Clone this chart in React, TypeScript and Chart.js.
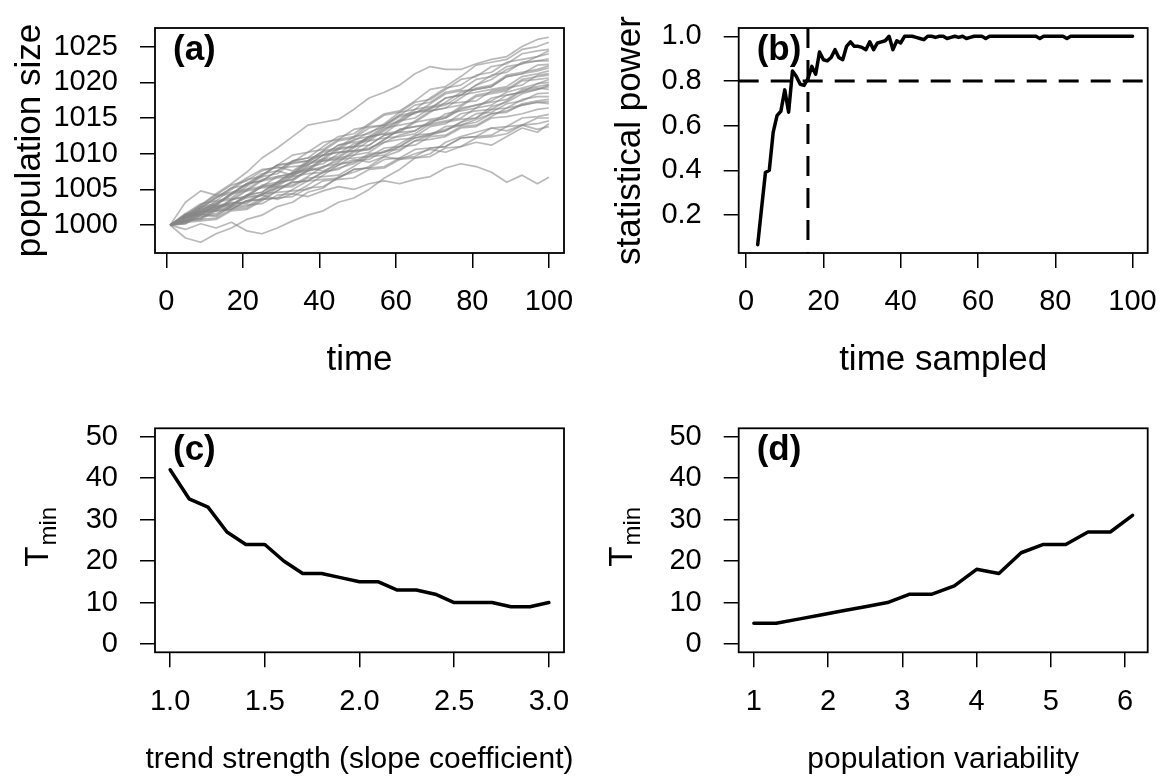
import React, { useEffect, useRef } from "react";
import { Chart, registerables } from "chart.js";

Chart.register(...registerables);

const FONT = "'Liberation Sans', Arial, Helvetica, sans-serif";
const TICK_SIZE = 29;
const TOP_TITLE_SIZE = 35;
const BOTTOM_TITLE_SIZE = 30;
const LABEL_SIZE = 35;

// ---------- (a) population trajectories ----------
const TIME_A = [1, 5, 9, 13, 17, 21, 25, 29, 33, 37, 41, 45, 49, 53, 57, 61, 65, 69, 73, 77, 81, 85, 89, 93, 97, 100];
const POPULATION_RUNS = [
  [1000, 1001.4, 1002.8, 1004.4, 1005.8, 1007.4, 1009.4, 1010.8, 1012.4, 1014.0, 1014.4, 1014.8, 1016.2, 1017.8, 1018.6, 1019.6, 1021.2, 1022.2, 1021.8, 1021.8, 1022.6, 1023.2, 1023.6, 1025.0, 1026.0, 1026.3],
  [1000, 1001.0, 1002.2, 1002.8, 1004.4, 1005.8, 1006.2, 1007.6, 1009.0, 1009.4, 1011.0, 1012.4, 1012.8, 1014.2, 1015.6, 1016.0, 1017.4, 1019.0, 1019.4, 1020.8, 1022.4, 1022.8, 1023.2, 1024.6, 1025.0, 1025.6],
  [1000, 1000.6, 1002.0, 1003.4, 1003.8, 1005.4, 1006.8, 1007.2, 1008.8, 1010.2, 1010.6, 1012.0, 1012.4, 1014.0, 1015.4, 1015.8, 1017.2, 1017.6, 1019.0, 1020.4, 1020.8, 1022.2, 1022.6, 1024.0, 1024.4, 1024.6],
  [1000, 1001.2, 1001.4, 1002.6, 1002.8, 1004.2, 1004.6, 1006.0, 1007.4, 1007.8, 1009.4, 1010.8, 1012.4, 1012.8, 1014.2, 1015.8, 1016.2, 1017.8, 1019.2, 1019.6, 1021.0, 1021.4, 1022.8, 1023.2, 1023.6, 1024.0],
  [1000, 1001.6, 1003.0, 1003.4, 1005.0, 1006.4, 1006.8, 1008.4, 1008.6, 1009.0, 1010.4, 1011.8, 1012.2, 1013.6, 1014.0, 1015.4, 1016.8, 1017.2, 1018.6, 1019.0, 1020.4, 1020.8, 1022.2, 1022.6, 1023.0, 1023.3],
  [1000, 1000.4, 1001.8, 1002.2, 1003.6, 1004.0, 1005.4, 1006.8, 1007.2, 1008.8, 1009.2, 1009.6, 1011.0, 1012.4, 1012.8, 1014.4, 1015.8, 1016.2, 1017.8, 1018.2, 1019.6, 1021.0, 1021.4, 1022.8, 1023.0, 1023.0],
  [1000, 1001.0, 1002.4, 1003.8, 1005.2, 1005.6, 1007.0, 1008.4, 1009.8, 1010.2, 1011.6, 1012.0, 1013.4, 1013.8, 1014.0, 1015.4, 1015.8, 1016.0, 1016.4, 1017.8, 1019.2, 1019.6, 1021.0, 1021.4, 1021.8, 1022.3],
  [1000, 1000.2, 1001.4, 1001.6, 1002.8, 1004.2, 1004.6, 1006.0, 1006.4, 1007.8, 1009.2, 1010.6, 1012.0, 1012.4, 1013.8, 1015.2, 1015.6, 1017.0, 1018.4, 1018.8, 1019.0, 1019.4, 1020.8, 1021.2, 1021.6, 1022.0],
  [1000, 1001.2, 1001.6, 1003.0, 1004.4, 1004.8, 1005.2, 1005.4, 1006.8, 1008.2, 1008.6, 1010.0, 1011.4, 1011.8, 1013.2, 1014.6, 1015.0, 1016.4, 1016.8, 1018.2, 1018.6, 1019.0, 1019.4, 1020.8, 1021.2, 1021.6],
  [1000, 1000.8, 1002.2, 1002.6, 1002.8, 1004.2, 1005.6, 1006.0, 1007.4, 1008.8, 1010.2, 1010.6, 1011.0, 1012.4, 1012.8, 1013.2, 1014.6, 1016.0, 1016.4, 1016.8, 1018.2, 1018.6, 1019.0, 1020.4, 1020.8, 1021.0],
  [1000, 1001.4, 1002.8, 1004.2, 1004.6, 1005.0, 1006.4, 1006.8, 1007.2, 1007.6, 1009.0, 1009.4, 1009.8, 1011.2, 1012.6, 1013.0, 1014.4, 1014.8, 1015.2, 1016.6, 1018.0, 1018.4, 1018.8, 1020.2, 1020.4, 1020.6],
  [1000, 1000.6, 1000.8, 1002.0, 1002.2, 1003.4, 1003.6, 1004.8, 1006.0, 1006.2, 1007.4, 1008.8, 1010.2, 1010.6, 1012.0, 1013.4, 1013.8, 1014.2, 1015.6, 1016.0, 1016.4, 1017.8, 1018.2, 1018.6, 1019.8, 1020.0],
  [1000, 1001.2, 1002.6, 1003.0, 1004.4, 1005.8, 1006.2, 1007.6, 1009.0, 1009.4, 1009.8, 1010.2, 1010.4, 1011.8, 1012.2, 1012.4, 1012.8, 1014.2, 1014.6, 1015.0, 1016.4, 1016.8, 1018.2, 1018.6, 1019.0, 1019.6],
  [1000, 1000.4, 1001.8, 1003.2, 1003.6, 1004.0, 1004.2, 1005.4, 1005.6, 1006.8, 1008.2, 1008.6, 1008.8, 1010.0, 1010.2, 1011.4, 1012.6, 1012.8, 1013.2, 1014.4, 1015.6, 1015.8, 1017.0, 1017.4, 1018.4, 1018.5],
  [1000, 1001.0, 1001.2, 1001.4, 1002.6, 1002.8, 1003.0, 1004.2, 1004.4, 1005.6, 1007.0, 1008.4, 1009.8, 1010.2, 1011.6, 1012.0, 1012.2, 1012.6, 1013.8, 1014.0, 1014.4, 1015.6, 1015.8, 1017.0, 1017.4, 1017.6],
  [1000, 1001.4, 1001.6, 1002.0, 1003.4, 1004.8, 1006.2, 1006.6, 1006.8, 1007.2, 1007.4, 1007.8, 1009.0, 1009.2, 1010.4, 1010.6, 1011.8, 1012.0, 1012.4, 1013.6, 1013.8, 1015.0, 1015.2, 1015.6, 1016.2, 1016.4],
  [1000, 1000.6, 1000.8, 1001.0, 1002.2, 1002.4, 1003.6, 1003.8, 1005.0, 1006.2, 1006.4, 1006.6, 1007.8, 1008.0, 1009.2, 1009.4, 1009.6, 1010.8, 1011.0, 1012.2, 1012.4, 1013.6, 1013.8, 1015.0, 1015.2, 1015.5],
  [1000, 1001.0, 1002.4, 1002.8, 1003.0, 1003.2, 1004.4, 1004.6, 1004.8, 1005.0, 1006.2, 1006.4, 1006.6, 1007.8, 1008.0, 1009.2, 1009.4, 1009.6, 1010.8, 1011.0, 1012.2, 1012.4, 1012.8, 1014.0, 1014.2, 1014.6],
  [1000, 999.4, 1000.2, 999.6, 1000.4, 999.2, 998.8, 999.6, 1000.6, 1001.4, 1002.0, 1003.2, 1003.8, 1005.0, 1006.6, 1007.8, 1009.4, 1010.0, 1011.6, 1012.4, 1013.0, 1013.6, 1013.2, 1014.0, 1013.4, 1013.8],
  [1000, 1001.0, 1001.8, 1002.6, 1003.0, 1003.8, 1004.2, 1003.6, 1004.4, 1004.0, 1004.8, 1005.4, 1005.0, 1005.8, 1006.2, 1005.8, 1006.4, 1006.8, 1008.0, 1008.6, 1008.2, 1007.4, 1006.0, 1007.0, 1005.8, 1006.7],
  [1000, 1001.2, 1002.6, 1004.0, 1004.4, 1005.8, 1007.2, 1007.6, 1007.0, 1008.0, 1007.6, 1008.4, 1009.2, 1008.8, 1009.6, 1009.2, 1010.0, 1010.6, 1010.2, 1011.0, 1011.6, 1011.2, 1012.4, 1013.6, 1013.0, 1014.2],
  [1000, 1000.6, 1002.0, 1002.4, 1002.6, 1004.0, 1005.4, 1005.8, 1007.2, 1008.6, 1009.0, 1009.2, 1009.4, 1009.6, 1010.8, 1011.0, 1011.2, 1012.4, 1012.6, 1013.8, 1014.0, 1015.2, 1016.4, 1016.8, 1017.2, 1017.0],
  [1000, 1001.6, 1002.0, 1002.2, 1002.4, 1002.6, 1003.8, 1005.2, 1005.4, 1006.6, 1006.8, 1007.0, 1008.2, 1009.6, 1009.8, 1011.0, 1012.4, 1013.8, 1014.2, 1015.6, 1016.0, 1016.2, 1017.4, 1018.8, 1019.2, 1019.0],
  [1000, 1000.8, 1001.0, 1002.2, 1003.6, 1005.0, 1005.4, 1005.6, 1007.0, 1008.4, 1009.8, 1011.2, 1011.6, 1012.0, 1013.4, 1014.8, 1016.2, 1016.6, 1017.0, 1017.2, 1017.4, 1018.8, 1019.2, 1019.6, 1021.0, 1021.2],
  [1000, 1001.0, 1002.4, 1003.8, 1005.2, 1006.6, 1007.8, 1008.0, 1008.2, 1008.4, 1009.8, 1010.2, 1010.4, 1010.6, 1012.0, 1013.4, 1013.8, 1014.0, 1014.4, 1014.8, 1015.0, 1016.2, 1016.4, 1017.6, 1018.0, 1018.0],
  [1000, 1000.4, 1000.6, 1000.8, 1002.0, 1002.2, 1003.4, 1004.8, 1006.2, 1007.6, 1008.0, 1009.4, 1010.8, 1012.2, 1013.6, 1014.0, 1014.4, 1015.8, 1017.2, 1018.6, 1019.0, 1019.4, 1020.8, 1021.2, 1022.4, 1022.5],
  [1000, 1001.4, 1001.8, 1002.0, 1002.2, 1003.4, 1003.6, 1003.8, 1004.0, 1005.2, 1005.4, 1006.6, 1007.8, 1008.0, 1008.2, 1009.4, 1010.6, 1010.8, 1011.0, 1012.2, 1012.4, 1012.6, 1013.8, 1014.0, 1015.0, 1015.0],
  [1000, 1001.2, 1001.4, 1002.8, 1004.2, 1005.6, 1007.0, 1008.4, 1008.8, 1009.0, 1010.4, 1010.8, 1011.0, 1011.2, 1012.6, 1013.0, 1013.2, 1014.6, 1015.0, 1016.4, 1016.8, 1017.2, 1017.6, 1019.0, 1019.4, 1019.7],
  [1000, 998.2, 997.6, 998.8, 999.6, 1000.8, 1001.4, 1002.6, 1003.2, 1004.6, 1005.2, 1006.8, 1007.4, 1008.2, 1009.6, 1010.4, 1011.8, 1012.6, 1013.2, 1014.4, 1015.0, 1016.6, 1017.2, 1018.4, 1019.0, 1019.4],
  [1000, 1003.2, 1004.8, 1004.2, 1005.6, 1006.2, 1007.6, 1008.2, 1007.6, 1009.0, 1009.8, 1011.2, 1011.8, 1013.0, 1013.8, 1014.6, 1015.8, 1016.4, 1017.8, 1018.2, 1019.6, 1020.4, 1021.8, 1022.6, 1023.6, 1024.4],
  [1000, 1000.2, 1001.6, 1001.2, 1002.6, 1003.4, 1004.2, 1005.8, 1006.4, 1007.6, 1008.2, 1009.0, 1010.4, 1010.8, 1011.6, 1012.6, 1013.2, 1014.4, 1015.0, 1016.2, 1016.8, 1017.4, 1018.6, 1019.2, 1019.8, 1020.4],
  [1000, 1000.6, 1001.0, 1002.4, 1003.2, 1003.0, 1004.4, 1005.2, 1006.0, 1006.2, 1007.4, 1008.0, 1008.6, 1009.8, 1010.2, 1011.0, 1012.2, 1012.8, 1013.4, 1014.0, 1014.8, 1015.6, 1016.0, 1016.8, 1017.2, 1017.3],
];
const X_TICKS_A = [0, 20, 40, 60, 80, 100];
const Y_TICKS_A = [1000, 1005, 1010, 1015, 1020, 1025];

// ---------- (b) statistical power ----------
const TIME_SAMPLED = [
  3, 4, 5, 6, 7, 8, 9, 10, 11, 12, 13, 14, 15, 16, 17, 18, 19, 20, 21, 22, 23, 24, 25, 26, 27, 28, 29, 30,
  31, 32, 33, 34, 35, 36, 37, 38, 39, 40, 41, 42, 43, 44, 45, 46, 47, 48, 49, 50, 51, 52, 53, 54, 55, 56, 57, 58,
  59, 60, 61, 62, 63, 64, 65, 66, 67, 68, 69, 70, 71, 72, 73, 74, 75, 76, 77, 78, 79, 80, 81, 82, 83, 84, 85, 86,
  87, 88, 89, 90, 91, 92, 93, 94, 95, 96, 97, 98, 99, 100,
];
const STAT_POWER = [
  0.067, 0.23, 0.39, 0.40, 0.57, 0.645, 0.665, 0.76, 0.66, 0.845, 0.82, 0.785, 0.78, 0.81, 0.865, 0.83, 0.93, 0.895,
  0.89, 0.905, 0.94, 0.905, 0.895, 0.955, 0.975, 0.955, 0.955, 0.95, 0.94, 0.975, 0.94, 0.97, 0.975, 0.98, 1.0, 0.94,
  0.98, 0.97, 1.0, 1.0, 1.0, 0.995, 0.99, 0.985, 1.0, 1.0, 0.995, 1.0, 1.0, 0.99, 0.995, 1.0, 0.995, 1.0, 0.99, 0.995,
  1.0, 1.0, 1.0, 0.99, 1.0, 1.0, 1.0, 1.0, 1.0, 1.0, 1.0, 1.0, 1.0, 1.0, 1.0, 1.0, 1.0, 0.99, 1.0, 1.0, 1.0, 1.0,
  1.0, 1.0, 0.99, 1.0, 1.0, 1.0, 1.0, 1.0, 1.0, 1.0, 1.0, 1.0, 1.0, 1.0, 1.0, 1.0, 1.0, 1.0, 1.0, 1.0,
];
const POWER_TARGET = 0.8;
const T_MIN_SAMPLED = 16;
const X_TICKS_B = [0, 20, 40, 60, 80, 100];
const Y_TICKS_B = [0.2, 0.4, 0.6, 0.8, 1.0];

// ---------- (c) trend strength ----------
const TREND_STRENGTH = [1.0, 1.1, 1.2, 1.3, 1.4, 1.5, 1.6, 1.7, 1.8, 1.9, 2.0, 2.1, 2.2, 2.3, 2.4, 2.5, 2.6, 2.7, 2.8, 2.9, 3.0];
const TMIN_TREND = [42, 35, 33, 27, 24, 24, 20, 17, 17, 16, 15, 15, 13, 13, 12, 10, 10, 10, 9, 9, 10];
const X_TICKS_C = [1.0, 1.5, 2.0, 2.5, 3.0];

// ---------- (d) population variability ----------
const POP_VARIABILITY = [1.0, 1.3, 1.6, 1.9, 2.2, 2.5, 2.8, 3.1, 3.4, 3.7, 4.0, 4.3, 4.6, 4.9, 5.2, 5.5, 5.8, 6.1];
const TMIN_VARIABILITY = [5, 5, 6, 7, 8, 9, 10, 12, 12, 14, 18, 17, 22, 24, 24, 27, 27, 31];
const X_TICKS_D = [1, 2, 3, 4, 5, 6];
const Y_TICKS_CD = [0, 10, 20, 30, 40, 50];

// ---------- helpers ----------
type AxisOpts = {
  min: number;
  max: number;
  ticks: number[];
  fmt: (v: number) => string;
  size: number;
};

const gridOpts = {
  display: true,
  drawOnChartArea: false,
  drawTicks: true,
  tickLength: 15,
  tickWidth: 1.5,
  tickColor: "#000",
  color: "#000",
  lineWidth: 1.5,
};

function zeroPad(s: any) {
  s.paddingTop = 0;
  s.paddingBottom = 0;
  s.paddingLeft = 0;
  s.paddingRight = 0;
}

function xAxis(o: AxisOpts) {
  return {
    type: "linear",
    position: "bottom",
    min: o.min,
    max: o.max,
    afterBuildTicks: (s: any) => {
      s.ticks = o.ticks.map((v) => ({ value: v }));
    },
    afterFit: (s: any) => {
      s.height = o.size;
      zeroPad(s);
    },
    grid: gridOpts,
    border: { display: false },
    ticks: {
      autoSkip: false,
      maxRotation: 0,
      minRotation: 0,
      padding: 17,
      color: "#000",
      font: { family: FONT, size: TICK_SIZE },
      callback: (v: any) => o.fmt(Number(v)),
    },
    title: { display: false },
  };
}

function yAxis(o: AxisOpts) {
  return {
    type: "linear",
    position: "left",
    min: o.min,
    max: o.max,
    afterBuildTicks: (s: any) => {
      s.ticks = o.ticks.map((v) => ({ value: v }));
    },
    afterFit: (s: any) => {
      s.width = o.size;
      zeroPad(s);
    },
    grid: gridOpts,
    border: { display: false },
    ticks: {
      autoSkip: false,
      padding: 22,
      color: "#000",
      font: { family: FONT, size: TICK_SIZE },
      callback: (v: any) => o.fmt(Number(v)),
    },
    title: { display: false },
  };
}

const boxPlugin = {
  id: "rbox",
  afterDraw(chart: any) {
    const { ctx, chartArea: ca } = chart;
    ctx.save();
    ctx.strokeStyle = "#000";
    ctx.lineWidth = 1.8;
    ctx.setLineDash([]);
    ctx.strokeRect(ca.left, ca.top, ca.right - ca.left, ca.bottom - ca.top);
    ctx.restore();
  },
};

function panelLabel(text: string) {
  return {
    id: "plabel",
    afterDraw(chart: any) {
      const { ctx, chartArea: ca } = chart;
      ctx.save();
      ctx.fillStyle = "#000";
      ctx.font = `bold ${LABEL_SIZE}px ${FONT}`;
      ctx.textAlign = "left";
      ctx.textBaseline = "alphabetic";
      ctx.fillText(text, ca.left + 18, ca.top + 32);
      ctx.restore();
    },
  };
}

// x-axis title centred under the plot box, at canvas y = yCenter
function xTitle(text: string, yCenter: number, size: number) {
  return {
    id: "xtitle",
    afterDraw(chart: any) {
      const { ctx, chartArea: ca } = chart;
      ctx.save();
      ctx.fillStyle = "#000";
      ctx.font = `${size}px ${FONT}`;
      ctx.textAlign = "center";
      ctx.textBaseline = "middle";
      ctx.fillText(text, (ca.left + ca.right) / 2, yCenter);
      ctx.restore();
    },
  };
}

// rotated y-axis title, centred on the plot box, at distance `offset` left of it
function yTitle(text: string, offset: number, size: number) {
  return {
    id: "ytitle",
    afterDraw(chart: any) {
      const { ctx, chartArea: ca } = chart;
      ctx.save();
      ctx.fillStyle = "#000";
      ctx.translate(ca.left - offset, (ca.top + ca.bottom) / 2);
      ctx.rotate(-Math.PI / 2);
      ctx.font = `${size}px ${FONT}`;
      ctx.textAlign = "center";
      ctx.textBaseline = "middle";
      ctx.fillText(text, 0, 0);
      ctx.restore();
    },
  };
}

function tminLabel(offset: number, size: number) {
  return {
    id: "tmin",
    afterDraw(chart: any) {
      const { ctx, chartArea: ca } = chart;
      const sub = Math.round(size * 0.72);
      ctx.save();
      ctx.fillStyle = "#000";
      ctx.translate(ca.left - offset, (ca.top + ca.bottom) / 2 - 3);
      ctx.rotate(-Math.PI / 2);
      ctx.textBaseline = "alphabetic";
      ctx.textAlign = "left";
      ctx.font = `${size}px ${FONT}`;
      const wT = ctx.measureText("T").width;
      ctx.font = `${sub}px ${FONT}`;
      const wm = ctx.measureText("min").width;
      const start = -(wT + wm) / 2;
      ctx.font = `${size}px ${FONT}`;
      ctx.fillText("T", start, 0);
      ctx.font = `${sub}px ${FONT}`;
      ctx.fillText("min", start + wT + 1, 8);
      ctx.restore();
    },
  };
}

const thresholdPlugin = {
  id: "thresholds",
  afterDatasetsDraw(chart: any) {
    const { ctx, chartArea: ca, scales } = chart;
    const yp = scales.y.getPixelForValue(POWER_TARGET);
    const xp = scales.x.getPixelForValue(T_MIN_SAMPLED);
    ctx.save();
    ctx.strokeStyle = "#000";
    ctx.lineWidth = 3;
    ctx.lineCap = "butt";
    ctx.setLineDash([20, 12]);
    ctx.beginPath();
    ctx.moveTo(ca.left, yp);
    ctx.lineTo(ca.right, yp);
    ctx.stroke();
    ctx.beginPath();
    ctx.moveTo(xp, ca.top);
    ctx.lineTo(xp, ca.bottom);
    ctx.stroke();
    ctx.restore();
  },
};

const blackLine = (xs: number[], ys: number[]) => ({
  data: xs.map((x, i) => ({ x, y: ys[i] })),
  borderColor: "#000",
  borderWidth: 3.5,
  borderJoinStyle: "round",
  borderCapStyle: "round",
  pointRadius: 0,
  fill: false,
  tension: 0,
});

const baseOptions = (padTop: number, padRight: number, scales: any) => ({
  responsive: false,
  animation: false,
  events: [],
  layout: { padding: { top: padTop, right: padRight, left: 0, bottom: 0 } },
  plugins: { legend: { display: false }, tooltip: { enabled: false } },
  scales,
});

const fmtInt = (v: number) => String(v);
const fmt1 = (v: number) => v.toFixed(1);

function configA() {
  return {
    type: "line",
    data: {
      datasets: POPULATION_RUNS.map((run) => ({
        data: TIME_A.map((t, i) => ({ x: t, y: run[i] })),
        borderColor: "rgba(135,135,135,0.58)",
        borderWidth: 1.7,
        borderJoinStyle: "round",
        pointRadius: 0,
        fill: false,
        tension: 0,
      })),
    },
    options: baseOptions(28, 18, {
      x: xAxis({ min: -2.96, max: 103.96, ticks: X_TICKS_A, fmt: fmtInt, size: 137 }),
      y: yAxis({ min: 996.1, max: 1027.6, ticks: Y_TICKS_A, fmt: fmtInt, size: 155 }),
    }),
    plugins: [boxPlugin, panelLabel("(a)"), xTitle("time", 360, TOP_TITLE_SIZE), yTitle("population size", 125, TOP_TITLE_SIZE)],
  };
}

function configB() {
  return {
    type: "line",
    data: { datasets: [blackLine(TIME_SAMPLED, STAT_POWER)] },
    options: baseOptions(28, 16.3, {
      x: xAxis({ min: -1.92, max: 103.92, ticks: X_TICKS_B, fmt: fmtInt, size: 137 }),
      y: yAxis({ min: 0.0297, max: 1.037, ticks: Y_TICKS_B, fmt: fmt1, size: 156.7 }),
    }),
    plugins: [
      thresholdPlugin,
      boxPlugin,
      panelLabel("(b)"),
      xTitle("time sampled", 360, TOP_TITLE_SIZE),
      yTitle("statistical power", 108.7, TOP_TITLE_SIZE),
    ],
  };
}

function configC() {
  return {
    type: "line",
    data: { datasets: [blackLine(TREND_STRENGTH, TMIN_TREND)] },
    options: baseOptions(38.3, 18, {
      x: xAxis({ min: 0.92, max: 3.08, ticks: X_TICKS_C, fmt: fmt1, size: 128.7 }),
      y: yAxis({ min: -2, max: 52, ticks: Y_TICKS_CD, fmt: fmtInt, size: 155 }),
    }),
    plugins: [
      boxPlugin,
      panelLabel("(c)"),
      xTitle("trend strength (slope coefficient)", 370, BOTTOM_TITLE_SIZE),
      tminLabel(107, BOTTOM_TITLE_SIZE + 3),
    ],
  };
}

function configD() {
  return {
    type: "line",
    data: { datasets: [blackLine(POP_VARIABILITY, TMIN_VARIABILITY)] },
    options: baseOptions(38.3, 16.3, {
      x: xAxis({ min: 0.796, max: 6.304, ticks: X_TICKS_D, fmt: fmtInt, size: 128.7 }),
      y: yAxis({ min: -2, max: 52, ticks: Y_TICKS_CD, fmt: fmtInt, size: 156.7 }),
    }),
    plugins: [
      boxPlugin,
      panelLabel("(d)"),
      xTitle("population variability", 370, BOTTOM_TITLE_SIZE),
      tminLabel(107, BOTTOM_TITLE_SIZE + 3),
    ],
  };
}

function ChartPanel(props: { left: number; top: number; width: number; height: number; make: () => any }) {
  const ref = useRef<HTMLCanvasElement | null>(null);
  useEffect(() => {
    if (!ref.current) return;
    const chart = new Chart(ref.current, props.make());
    return () => chart.destroy();
  }, []);
  return (
    <canvas
      ref={ref}
      width={props.width}
      height={props.height}
      style={{ position: "absolute", left: props.left, top: props.top, width: props.width, height: props.height }}
    />
  );
}

export default function App() {
  return (
    <div style={{ position: "fixed", left: 0, top: 0, width: 1164, height: 781, background: "#fff", overflow: "hidden" }}>
      <ChartPanel left={0} top={0} width={582} height={390} make={configA} />
      <ChartPanel left={582} top={0} width={582} height={390} make={configB} />
      <ChartPanel left={0} top={390} width={582} height={391} make={configC} />
      <ChartPanel left={582} top={390} width={582} height={391} make={configD} />
    </div>
  );
}
